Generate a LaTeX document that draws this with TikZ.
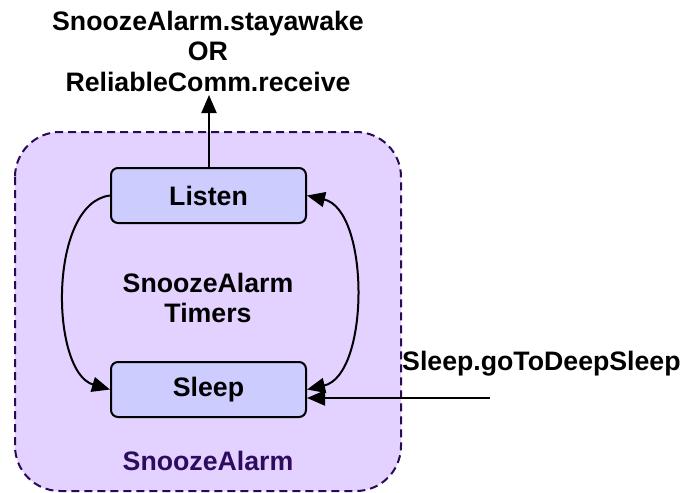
\documentclass[tikz,border=0pt]{standalone}
\usepackage{fontspec}
\setmainfont{Liberation Sans}
\usetikzlibrary{arrows.meta}
\definecolor{zonefill}{HTML}{E3D1FF}
\definecolor{zoneline}{HTML}{2A0A55}
\definecolor{statefill}{HTML}{CCCCFF}
\definecolor{zonetext}{HTML}{2E0B5E}
\begin{document}
\begin{tikzpicture}[x=1pt,y=-1pt,
  lbl/.style={font=\fontsize{26.7}{30.5}\selectfont\bfseries, align=center, inner sep=0pt},
  statebox/.style={draw=black, line width=2pt, fill=statefill, rounded corners=7pt,
    minimum width=195pt, minimum height=55pt, inner sep=0pt,
    font=\fontsize{26.7}{31}\selectfont\bfseries},
  tip/.tip={Triangle[length=18pt,width=15pt]},
  arr/.style={line width=2pt, -tip},
  arrs/.style={line width=2pt, tip-tip}]
  \useasboundingbox (0,0) rectangle (686,493);
  % component boundary
  \draw[fill=zonefill, draw=zoneline, line width=2pt, dash pattern=on 8pt off 5pt,
    rounded corners=45pt] (15,132) rectangle (401,491);
  % states
  \node[statebox] (listen) at (208.5,195.5) {Listen};
  \node[statebox] (sleep) at (208.5,389.5) {Sleep};
  % labels
  \node[lbl] (out) at (208,51) {SnoozeAlarm.stayawake\\OR\\ReliableComm.receive};
  \node[lbl] (timers) at (208,298) {SnoozeAlarm\\Timers};
  \node[lbl, text=zonetext] (comp) at (208,461) {SnoozeAlarm};
  \node[lbl, anchor=west] (cmd) at (402,364) {Sleep.goToDeepSleep};
  \coordinate (src) at (490,398);
  \coordinate (outend) at (209,95);
  % transitions
  \draw[arr] (listen.north -| outend) -- (outend);
  \draw[arr] (listen.west) .. controls (48,203) and (50,372) .. (sleep.west);
  \draw[arrs] (sleep.east) .. controls (370,375) and (370,210) .. (listen.east);
  \draw[arr] (src) -- (src -| sleep.east);
\end{tikzpicture}
\end{document}
